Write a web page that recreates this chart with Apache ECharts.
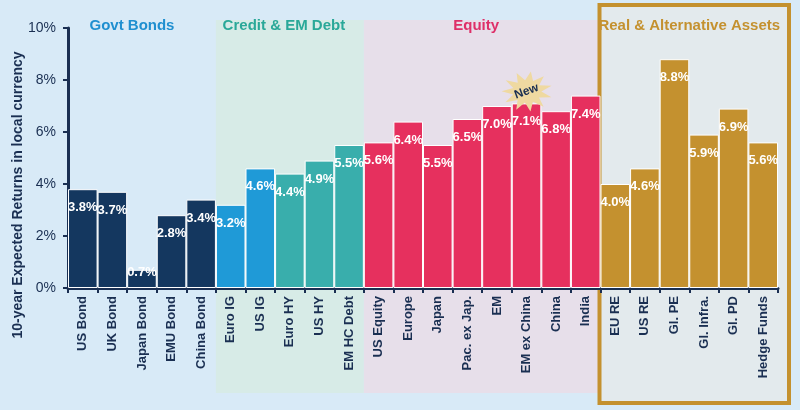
<!DOCTYPE html>
<html><head><meta charset="utf-8">
<script src="https://cdn.jsdelivr.net/npm/echarts@6/dist/echarts.min.js"></script>
<style>html,body{margin:0;padding:0;background:#d8eaf7;}#c{width:800px;height:410px;}</style>
</head><body><div id="c"></div>
<script>
var categories = ['US Bond','UK Bond','Japan Bond','EMU Bond','China Bond','Euro IG','US IG','Euro HY','US HY','EM HC Debt','US Equity','Europe','Japan','Pac. ex Jap.','EM','EM ex China','China','India','EU RE','US RE','Gl. PE','Gl. Infra.','Gl. PD','Hedge Funds'];
var values = [3.8,3.7,0.7,2.8,3.4,3.2,4.6,4.4,4.9,5.5,5.6,6.4,5.5,6.5,7.0,7.1,6.8,7.4,4.0,4.6,8.8,5.9,6.9,5.6];
var colorGroup = [0,0,0,0,0,1,1,2,2,2,3,3,3,3,3,3,3,3,4,4,4,4,4,4];
var barColors = ['#14375f','#1f9ad7','#39aeac','#e6305e','#c4912f'];
var groupNames = ['Govt Bonds','Credit & EM Debt','Equity','Real & Alternative Assets'];
var groupStart = [0,5,10,18];
var groupEnd = [4,9,17,23];
var groupTitleColors = ['#1f8fd0','#2aa898','#de2f68','#c4912f'];
var yTicks = [0,2,4,6,8,10];
var navy = '#1a2f52';

var chart = echarts.init(document.getElementById('c'));
var data = values.map(function(v,i){
  var d = {value:v,itemStyle:{color:barColors[colorGroup[i]]}};
  if (v < 1) d.label = {distance:-4};
  return d;
});

function starPath(n, ro, ri){
  var d = '';
  for (var k=0;k<2*n;k++){
    var a = Math.PI*k/n - Math.PI/2 + 0.15;
    var r = (k%2===0)?ro:ri;
    d += (k===0?'M':'L') + (50+r*Math.cos(a)).toFixed(2)+' '+(50+r*Math.sin(a)).toFixed(2)+' ';
  }
  return 'path://'+d+'Z';
}

chart.setOption({
  animation:false,
  backgroundColor:'#d8eaf7',
  grid:{left:68,right:22,top:28,bottom:122},
  xAxis:{type:'category',data:categories,
    axisLine:{lineStyle:{color:navy,width:3}},
    axisTick:{show:true,length:5,lineStyle:{color:navy,width:2}},
    axisLabel:{rotate:90,interval:0,color:navy,fontWeight:'bold',fontSize:13,fontFamily:'Liberation Sans, Arial',margin:8}
  },
  yAxis:{type:'value',min:0,max:10,interval:2,
    axisLine:{show:true,lineStyle:{color:navy,width:3}},
    axisTick:{show:true,length:5,lineStyle:{color:navy,width:2}},
    splitLine:{show:false},
    axisLabel:{formatter:'{value}%',color:navy,fontSize:14,fontFamily:'Liberation Sans, Arial',margin:12}
  },
  series:[{type:'bar',data:data,barCategoryGap:'0%',z:3,
    itemStyle:{borderColor:'#ffffff',borderWidth:1},
    label:{show:true,position:'insideTop',distance:12,color:'#ffffff',fontWeight:'bold',fontSize:13,fontFamily:'Liberation Sans, Arial',
      formatter:function(p){return p.value.toFixed(1)+'%';}},
    markPoint:{symbol:starPath(11,50,28),symbolSize:[50,40],symbolOffset:[0,-12],silent:true,
      itemStyle:{color:'#efd9a1'},
      label:{show:true,formatter:'New',color:navy,fontWeight:'bold',fontSize:12,rotate:20,fontFamily:'Liberation Sans, Arial'},
      data:[{coord:['EM ex China',7.1]}]}
  }]
});

function drawRegions(){
  var half = (chart.convertToPixel({xAxisIndex:0},categories[1]) - chart.convertToPixel({xAxisIndex:0},categories[0]))/2;
  var fills = [null,'#d7ebe7','#e7dfea','#e3eaed'];
  var g = [];
  for (var i=0;i<groupNames.length;i++){
    var x0 = chart.convertToPixel({xAxisIndex:0},categories[groupStart[i]]) - half;
    var x1 = chart.convertToPixel({xAxisIndex:0},categories[groupEnd[i]]) + half;
    if (i===1 || i===2){
      g.push({type:'rect',z:-10,silent:true,shape:{x:x0,y:20,width:x1-x0,height:373},style:{fill:fills[i]}});
    }
    if (i===3){
      g.push({type:'rect',z:-10,silent:true,shape:{x:x0-1,y:5,width:x1-x0+12,height:398},style:{fill:fills[i],stroke:'#c4912f',lineWidth:4}});
    }
    g.push({type:'text',z:10,silent:true,x:(x0+x1)/2 + (i===0?-10:(i===1||i===2)?-6:0),y:26,
      style:{text:groupNames[i],fill:groupTitleColors[i],font:'bold 15px "Liberation Sans", Arial',align:'center',verticalAlign:'middle'}});
  }
  g.push({type:'text',z:10,silent:true,x:18,y:195,rotation:Math.PI/2,
    style:{text:'10-year Expected Returns in local currency',fill:navy,font:'bold 14px "Liberation Sans", Arial',align:'center',verticalAlign:'middle'}});
  chart.setOption({graphic:g});
}
drawRegions();
</script>
</body></html>
